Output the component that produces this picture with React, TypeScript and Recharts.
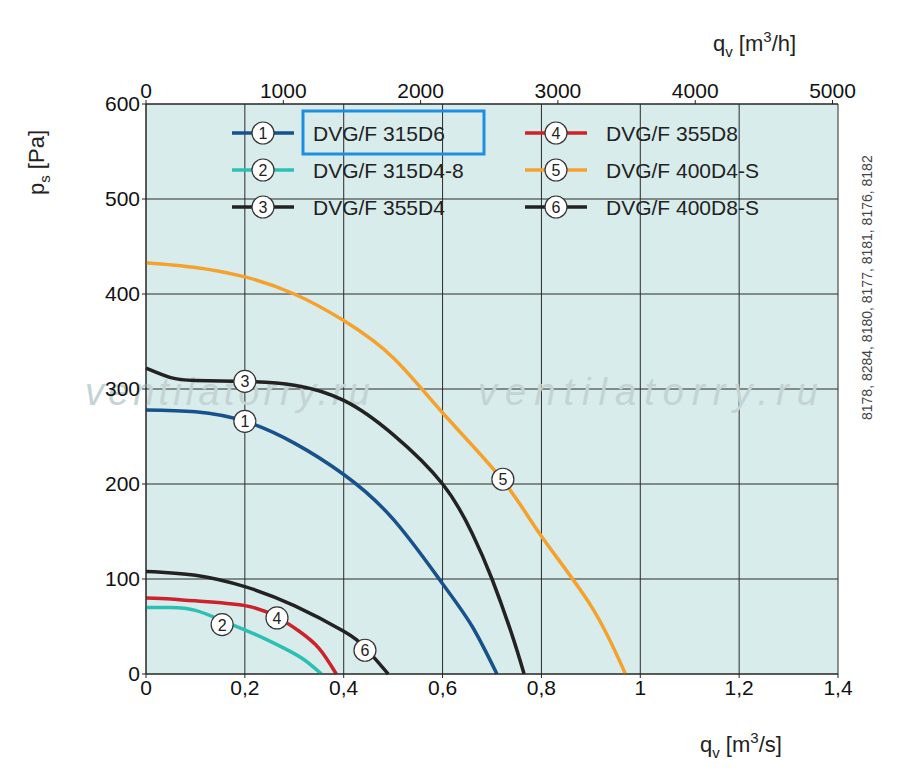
import React from "react";
import { ComposedChart, Line, XAxis, YAxis, CartesianGrid, ReferenceDot } from "recharts";

const s1 = [[0,278],[0.1,276],[0.2,266],[0.3,243],[0.4,210],[0.5,163],[0.6,95],[0.66,50],[0.71,0]];
const s2 = [[0,70],[0.05,70],[0.1,67],[0.16,55],[0.22,42],[0.28,27],[0.32,15],[0.355,0]];
const s3 = [[0,322],[0.05,312],[0.1,309],[0.2,308],[0.3,304],[0.4,288],[0.5,252],[0.6,200],[0.66,148],[0.7,100],[0.74,42],[0.765,0]];
const s4 = [[0,80],[0.05,79],[0.1,77],[0.2,72],[0.265,60],[0.31,45],[0.35,27],[0.385,0]];
const s5 = [[0,433],[0.1,428],[0.2,418],[0.3,400],[0.4,372],[0.5,333],[0.6,275],[0.72,205],[0.8,145],[0.9,72],[0.97,0]];
const s6 = [[0,108],[0.1,104],[0.2,92],[0.3,72],[0.4,45],[0.443,28],[0.49,0]];
const colors = ["#19518c", "#2ebfb3", "#222222", "#cc2229", "#f5a12e", "#222222"];
const names = ["DVG/F 315D6", "DVG/F 315D4-8", "DVG/F 355D4", "DVG/F 355D8", "DVG/F 400D4-S", "DVG/F 400D8-S"];
const labelPos = [[0.2,266],[0.154,52],[0.2,308],[0.265,59],[0.722,205],[0.443,25]];
const xTicks = [0,0.2,0.4,0.6,0.8,1,1.2,1.4];
const topTicks = [0,1000,2000,3000,4000,5000];
const yTicks = [0,100,200,300,400,500,600];
const series = [s1,s2,s3,s4,s5,s6].map(s => s.map(([q,p]) => ({ q, p })));
const topDummy = [{ h: 0, p: 0 }, { h: 5040, p: 0 }];

const font = "'Liberation Sans', Arial, sans-serif";

const Circ = (n: number) => (props: any) => (
  <g>
    <circle cx={props.cx} cy={props.cy} r={11} fill="#fff" stroke="#333" strokeWidth={1.2} />
    <text x={props.cx} y={props.cy + 6} textAnchor="middle" fontSize={16} fontFamily={font} fill="#222">{n}</text>
  </g>
);

const tickStyle = { fontSize: 21, fill: "#111", fontFamily: font };

export default function App() {
  return (
    <div style={{ position: "absolute", left: 0, top: 0, width: 900, height: 781, background: "#fff", fontFamily: font }}>
      <ComposedChart width={900} height={781} margin={{ top: 74, right: 62, bottom: 77, left: 86 }}>
        <CartesianGrid stroke="#2a2a2a" strokeWidth={1} fill="#d8eceb" fillOpacity={1}
          horizontalValues={yTicks} verticalValues={xTicks} xAxisId="b" yAxisId="l" />
        <XAxis xAxisId="b" dataKey="q" type="number" domain={[0, 1.4]} ticks={xTicks} height={30}
          tickFormatter={(v: number) => String(v).replace(".", ",")}
          tick={tickStyle} stroke="#222" tickSize={4} allowDuplicatedCategory={false} />
        <XAxis xAxisId="t" dataKey="h" orientation="top" type="number" domain={[0, 5040]} ticks={topTicks} height={30}
          tick={tickStyle} stroke="#222" tickSize={4} />
        <YAxis yAxisId="l" type="number" domain={[0, 600]} ticks={yTicks} width={60}
          tick={tickStyle} stroke="#222" tickSize={4} />
        <text x={85} y={405} fontSize={38} fontStyle="italic" fill="#c4d3d3" fontFamily={font} textLength={285}>ventilatorry.ru</text>
        <text x={478} y={405} fontSize={38} fontStyle="italic" fill="#c4d3d3" fontFamily={font} textLength={340}>ventilatorry.ru</text>
        <Line xAxisId="t" yAxisId="l" data={topDummy} dataKey="p" stroke="none" dot={false} isAnimationActive={false} />
        {series.map((d, i) => (
          <Line key={i} xAxisId="b" yAxisId="l" data={d} dataKey="p" type="natural" stroke={colors[i]}
            strokeWidth={3.5} dot={false} isAnimationActive={false} />
        ))}
        {labelPos.map(([q, p], i) => (
          <ReferenceDot key={i} xAxisId="b" yAxisId="l" x={q} y={p} r={11} shape={Circ(i + 1)} />
        ))}
        {names.map((n, i) => {
          const col = i < 3 ? 0 : 1;
          const row = i % 3;
          const x0 = col === 0 ? 232 : 525;
          const y0 = 133 + row * 37;
          return (
            <g key={n}>
              <line x1={x0} x2={x0 + 62} y1={y0} y2={y0} stroke={colors[i]} strokeWidth={3.5} />
              <circle cx={x0 + 31} cy={y0} r={11} fill="#fff" stroke="#333" strokeWidth={1.2} />
              <text x={x0 + 31} y={y0 + 6} textAnchor="middle" fontSize={16} fill="#222" fontFamily={font}>{i + 1}</text>
              <text x={x0 + 81} y={y0 + 8} fontSize={21} fill="#222" fontFamily={font}>{n}</text>
            </g>
          );
        })}
        <rect x={303} y={111} width={181} height={43} fill="none" stroke="#1e8fe0" strokeWidth={3} />
        <text x={713} y={51} fontSize={22} fill="#222" fontFamily={font}>q<tspan fontSize={15} dy={6}>v</tspan><tspan dy={-6}> [m</tspan><tspan fontSize={15} dy={-9}>3</tspan><tspan dy={9}>/h]</tspan></text>
        <text x={700} y={752} fontSize={22} fill="#222" fontFamily={font}>q<tspan fontSize={15} dy={6}>v</tspan><tspan dy={-6}> [m</tspan><tspan fontSize={15} dy={-9}>3</tspan><tspan dy={9}>/s]</tspan></text>
        <text transform="translate(44,195) rotate(-90)" fontSize={22} fill="#222" fontFamily={font}>p<tspan fontSize={15} dy={6}>s</tspan><tspan dy={-6}> [Pa]</tspan></text>
        <text transform="translate(872,420) rotate(-90)" fontSize={14} fill="#444" fontFamily={font}>8178, 8284, 8180, 8177, 8181, 8176, 8182</text>
      </ComposedChart>
    </div>
  );
}
